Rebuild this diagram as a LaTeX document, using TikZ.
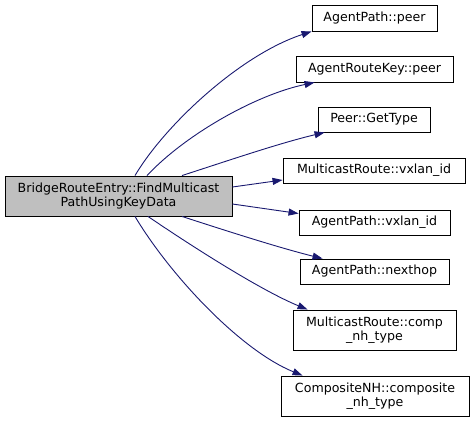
\documentclass[tikz,border=0pt]{standalone}
\usepackage{fontspec}
\setmainfont{DejaVu Sans}
\usetikzlibrary{arrows.meta}
\definecolor{edgeblue}{HTML}{191970}
\definecolor{graybox}{HTML}{BFBFBF}
\begin{document}
\begin{tikzpicture}[x=1pt,y=-1pt,
  fn/.style={draw=black,line width=0.9pt,fill=white,inner sep=0pt,align=center,
    font=\fontsize{12.6}{14}\selectfont},
  edge/.style={draw=edgeblue,line width=0.9pt,-{Triangle[length=10pt,width=7pt]}}]
\useasboundingbox (0,0) rectangle (475,421);
\node[fn,fill=graybox,minimum width=227pt,minimum height=40pt] (L) at (118.5,196) {BridgeRouteEntry::FindMulticast\\PathUsingKeyData};
\node[fn,minimum width=125pt,minimum height=26pt] (A1) at (374.5,18) {AgentPath::peer};
\node[fn,minimum width=157pt,minimum height=26pt] (A2) at (374.5,69) {AgentRouteKey::peer};
\node[fn,minimum width=112pt,minimum height=25pt] (A3) at (374,119.5) {Peer::GetType};
\node[fn,minimum width=182pt,minimum height=25pt] (A4) at (374,170.5) {MulticastRoute::vxlan\_id};
\node[fn,minimum width=151pt,minimum height=25pt] (A5) at (374.5,222.5) {AgentPath::vxlan\_id};
\node[fn,minimum width=149pt,minimum height=25pt] (A6) at (374.5,271.5) {AgentPath::nexthop};
\node[fn,minimum width=163pt,minimum height=40pt] (A7) at (374.5,330) {MulticastRoute::comp\\\_nh\_type};
\node[fn,minimum width=188pt,minimum height=40pt] (A8) at (375,396) {CompositeNH::composite\\\_nh\_type};
\draw[edge] ([xshift=16.5pt]L.north) .. controls (165,125) and (240,55) .. ([xshift=0pt]A1.south west);
\draw[edge] ([xshift=28.5pt]L.north) .. controls (185,135) and (255,95) .. ([xshift=19pt]A2.south west);
\draw[edge] ([xshift=63.5pt]L.north) .. controls (230,160) and (280,143) .. ([xshift=7pt]A3.south west);
\draw[edge] ([yshift=9pt]L.east) -- ([yshift=-9.5pt]A4.west);
\draw[edge] ([yshift=-8pt]L.east) -- ([yshift=9pt]A5.west);
\draw[edge] ([xshift=63.5pt]L.south) .. controls (230,232) and (280,248) .. ([xshift=23pt]A6.north west);
\draw[edge] ([xshift=29.5pt]L.south) .. controls (190,245) and (260,290) .. ([xshift=15pt]A7.north west);
\draw[edge] ([xshift=16.5pt]L.south) .. controls (170,275) and (240,350) .. ([xshift=22pt]A8.north west);
\end{tikzpicture}
\end{document}
